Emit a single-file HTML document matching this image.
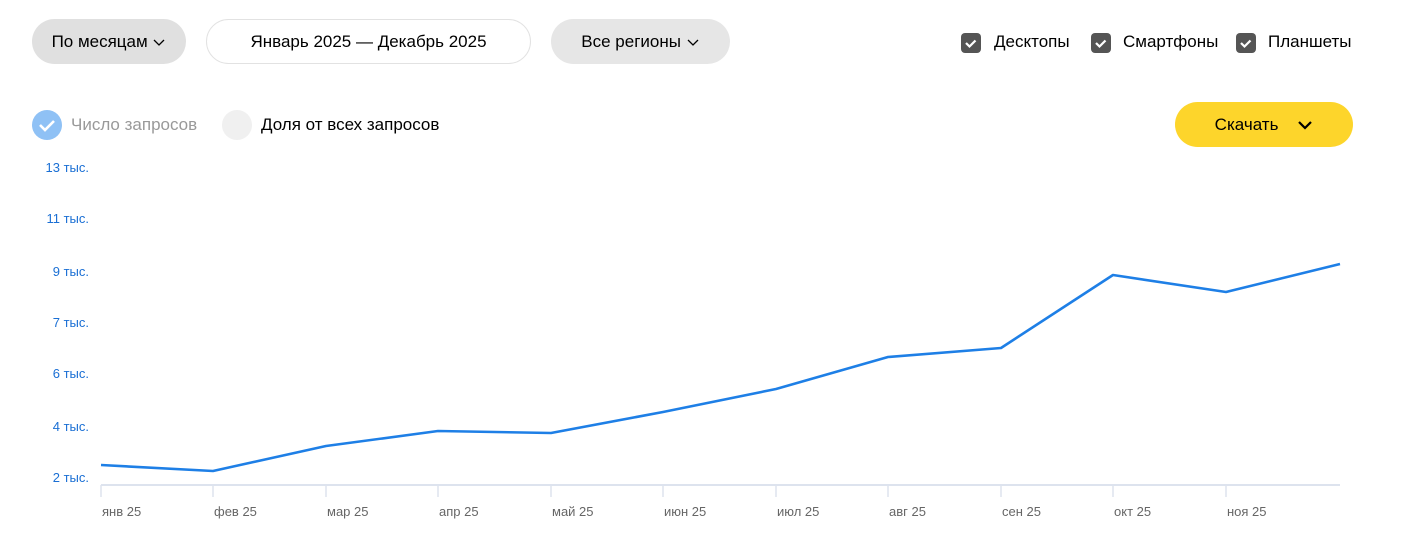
<!DOCTYPE html>
<html><head><meta charset="utf-8"><style>
body{margin:0;width:1404px;height:540px;background:#fff;font-family:"Liberation Sans","DejaVu Sans",sans-serif;position:relative;overflow:hidden}
.pill{position:absolute;top:19px;height:45px;border-radius:23px;display:flex;align-items:center;justify-content:center;font-size:17px;color:#000;box-sizing:border-box}
.cb{position:absolute;top:33px;width:19px;height:19px;border-radius:4px;background:#555}
.lbl{position:absolute;top:32px;font-size:17px;color:#000}
</style></head><body>
<div class="pill" style="left:32px;width:154px;background:#e0e0e0">По месяцам&nbsp;<svg width="14" height="10"><path d="M2 3l5 5 5-5" stroke="#000" fill="none" stroke-width="1.3"/></svg></div>
<div class="pill" style="left:206px;width:325px;border:1px solid #e2e2e2">Январь 2025 — Декабрь 2025</div>
<div class="pill" style="left:551px;width:179px;background:#e6e6e6">Все регионы&nbsp;<svg width="14" height="10"><path d="M2 3l5 5 5-5" stroke="#000" fill="none" stroke-width="1.3"/></svg></div>
<svg style="position:absolute;left:0;top:0" width="1404" height="60">
<g fill="#555"><rect x="961" y="33" width="20" height="20" rx="4"/><rect x="1091" y="33" width="20" height="20" rx="4"/><rect x="1236" y="33" width="20" height="20" rx="4"/></g>
<g stroke="#fff" stroke-width="2.2" fill="none"><path d="M966 43l3.5 3.5 6-6"/><path d="M1096 43l3.5 3.5 6-6"/><path d="M1241 43l3.5 3.5 6-6"/></g>
</svg>
<div class="lbl" style="left:994px">Десктопы</div>
<div class="lbl" style="left:1123px">Смартфоны</div>
<div class="lbl" style="left:1268px">Планшеты</div>
<svg style="position:absolute;left:0;top:100px" width="460" height="50">
<circle cx="47" cy="25" r="15" fill="#8fc1f5"/><path d="M40 25l5 5 9-9" stroke="#fff" stroke-width="2.6" fill="none"/>
<circle cx="237" cy="25" r="15" fill="#f0f0f0"/>
</svg>
<div style="position:absolute;left:71px;top:115px;font-size:17px;color:#999">Число запросов</div>
<div style="position:absolute;left:261px;top:115px;font-size:17px;color:#000">Доля от всех запросов</div>
<div class="pill" style="left:1175px;top:102px;width:178px;background:#fdd52b">Скачать&nbsp;&nbsp;&nbsp;&nbsp;<svg width="16" height="10"><path d="M2 2l6 6 6-6" stroke="#000" fill="none" stroke-width="2.2"/></svg></div>
<svg style="position:absolute;left:0;top:0" width="1404" height="540" font-family="Liberation Sans, sans-serif">
<g fill="#1a6fd4" font-size="13" text-anchor="end">
<text x="89" y="172">13 тыс.</text><text x="89" y="223">11 тыс.</text><text x="89" y="276">9 тыс.</text><text x="89" y="327">7 тыс.</text><text x="89" y="378">6 тыс.</text><text x="89" y="431">4 тыс.</text><text x="89" y="482">2 тыс.</text>
</g>
<line x1="101" y1="485" x2="1340" y2="485" stroke="#dde3ee" stroke-width="2"/>
<g stroke="#dde3ee" stroke-width="1.5">
<line x1="101" y1="485" x2="101" y2="497"/><line x1="213" y1="485" x2="213" y2="497"/><line x1="326" y1="485" x2="326" y2="497"/><line x1="438" y1="485" x2="438" y2="497"/><line x1="551" y1="485" x2="551" y2="497"/><line x1="663" y1="485" x2="663" y2="497"/><line x1="776" y1="485" x2="776" y2="497"/><line x1="888" y1="485" x2="888" y2="497"/><line x1="1001" y1="485" x2="1001" y2="497"/><line x1="1113" y1="485" x2="1113" y2="497"/><line x1="1226" y1="485" x2="1226" y2="497"/>
</g>
<g fill="#666" font-size="13">
<text x="102" y="516">янв 25</text><text x="214" y="516">фев 25</text><text x="327" y="516">мар 25</text><text x="439" y="516">апр 25</text><text x="552" y="516">май 25</text><text x="664" y="516">июн 25</text><text x="777" y="516">июл 25</text><text x="889" y="516">авг 25</text><text x="1002" y="516">сен 25</text><text x="1114" y="516">окт 25</text><text x="1227" y="516">ноя 25</text>
</g>
<polyline fill="none" stroke="#1e7fe6" stroke-width="2.6" stroke-linejoin="round" points="101,465 213,471 326,446 438,431 551,433 663,412 776,389 888,357 1001,348 1113,275 1226,292 1340,264"/>
</svg>
</body></html>
